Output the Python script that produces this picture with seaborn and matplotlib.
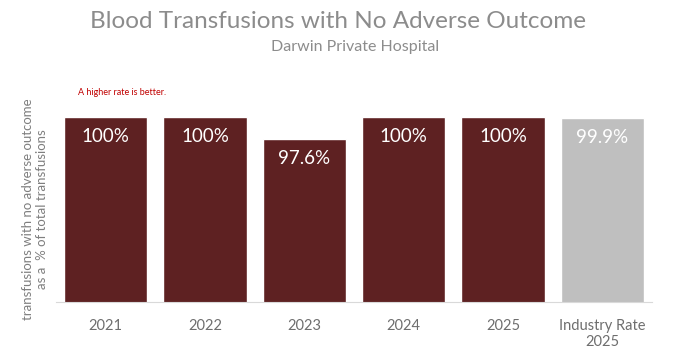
import matplotlib
matplotlib.use("Agg")
import matplotlib.pyplot as plt
import seaborn as sns
import pandas as pd

categories = ["2021", "2022", "2023", "2024", "2025", "Industry Rate\n2025"]
rates = [100.0, 100.0, 97.6, 100.0, 100.0, 99.9]
labels = ["100%", "100%", "97.6%", "100%", "100%", "99.9%"]
colors = ["#5E2122", "#5E2122", "#5E2122", "#5E2122", "#5E2122", "#BFBFBF"]

sns.set_style("white")
plt.rcParams['font.family'] = ['Lato', 'DejaVu Sans']

df = pd.DataFrame({"category": categories, "rate": rates})

fig = plt.figure(figsize=(6.82, 3.62), dpi=100)
ax = fig.add_axes([0.082, 0.166, 0.874, 0.511])
sns.barplot(data=df, x="category", y="rate", hue="category", palette=colors,
            width=0.84, legend=False, ax=ax, saturation=1)
ax.set_ylim(80, 100)
ax.set_yticks([])
ax.set_xlabel("")
ax.set_ylabel("transfusions with no adverse outcome\nas a  % of total transfusions",
              fontsize=9.5, color="#7F7F7F", labelpad=6)
for s in ["top", "right", "left"]:
    ax.spines[s].set_visible(False)
ax.spines["bottom"].set_color("#D9D9D9")
ax.tick_params(axis="x", length=0, labelsize=10.5, labelcolor="#6E6E6E", pad=12)

for i, (v, lab) in enumerate(zip(rates, labels)):
    ax.text(i, v - 1.2, lab, ha="center", va="top", color="white", fontsize=13.5)

fig.text(0.496, 0.94, "Blood Transfusions with No Adverse Outcome", ha="center", va="center",
         fontsize=17.5, color="#8C8C8C")
fig.text(0.52, 0.87, "Darwin Private Hospital", ha="center", va="center",
         fontsize=11.5, color="#8C8C8C")
fig.text(0.114, 0.745, "A higher rate is better.", ha="left", va="center",
         fontsize=6.5, color="#C00000")

fig.savefig("out.png", dpi=100)
